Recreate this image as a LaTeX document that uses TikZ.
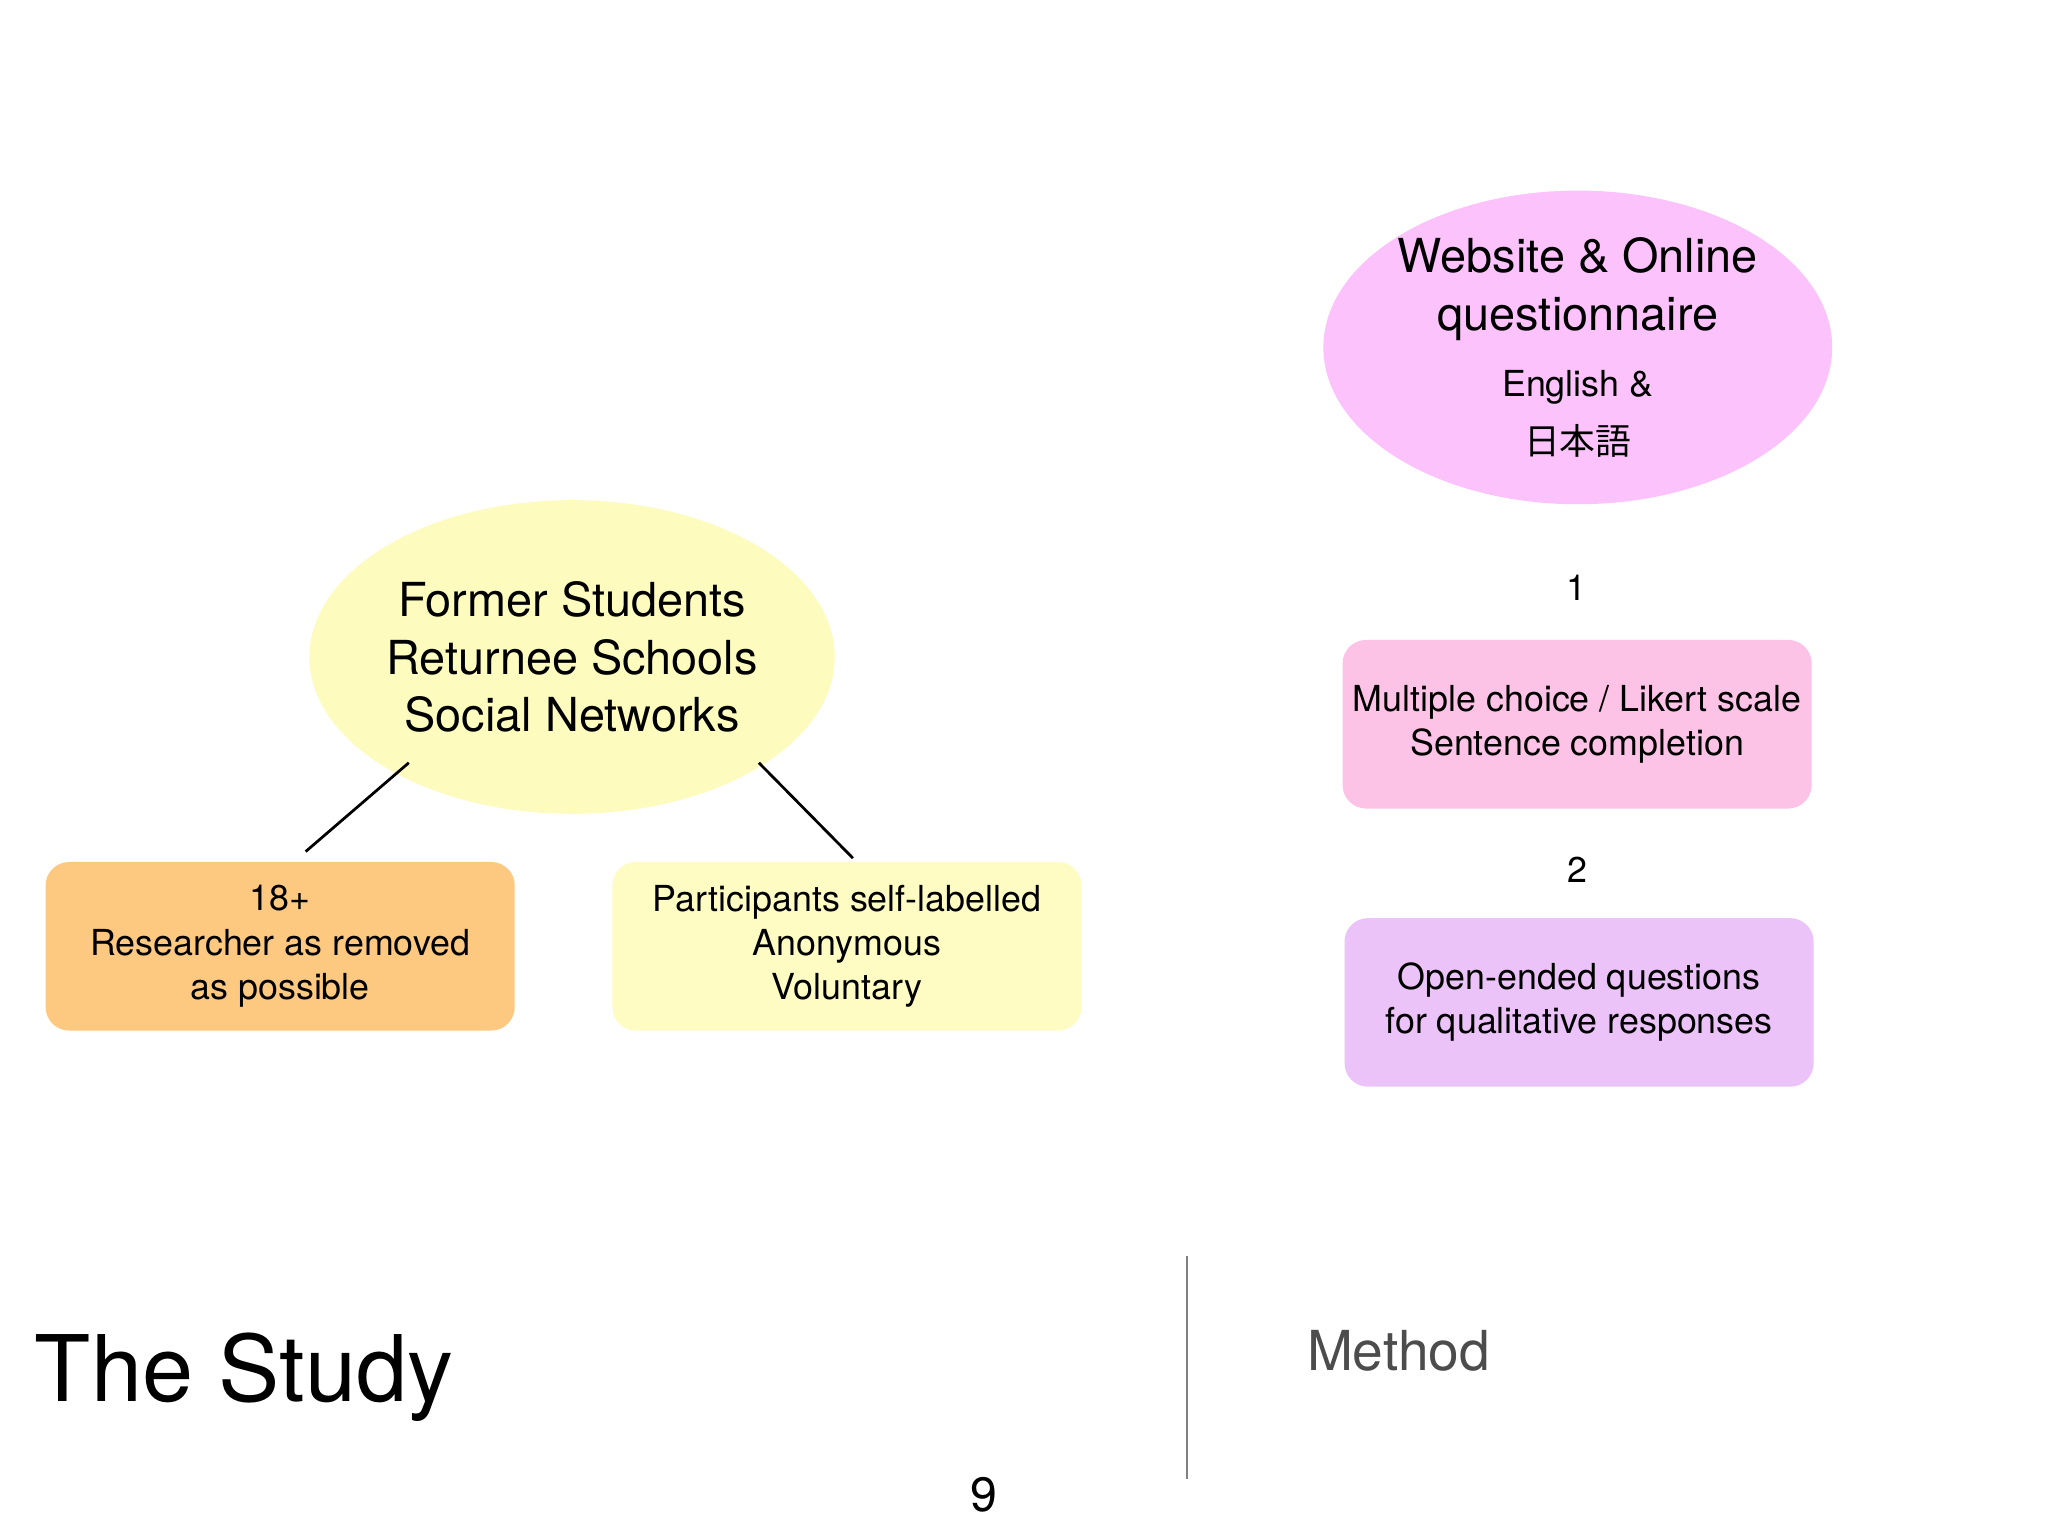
\documentclass[tikz,border=0pt]{standalone}
\usepackage{fontspec}
\setmainfont{TeX Gyre Heros}
\newfontfamily\cjk{Noto Sans CJK JP}
\usetikzlibrary{shapes.geometric}
\definecolor{pinkE}{HTML}{FBC2FB}
\definecolor{pinkB}{HTML}{FDC3E6}
\definecolor{purpB}{HTML}{EBC3F8}
\definecolor{yelE}{HTML}{FDFBBE}
\definecolor{yelB}{HTML}{FEFCC2}
\definecolor{orgB}{HTML}{FDC880}
\tikzset{
 ell/.style={ellipse,minimum width=3.26cm,minimum height=2.4cm,inner sep=0pt,align=center,font=\fontsize{10.2}{12.5}\selectfont},
 box/.style={rounded corners=0.18cm,minimum width=3.59cm,minimum height=1.29cm,align=center,inner sep=0pt,font=\fontsize{7.8}{9.6}\selectfont},
 lbl/.style={font=\fontsize{7.8}{9.6}\selectfont},
 conn/.style={line width=0.6pt}
}
\begin{document}
\begin{tikzpicture}[x=0.01cm,y=-0.01cm]
\useasboundingbox[fill=white] (0,0) rectangle (1568,1176);
\node[ell,fill=pinkE] (web) at (1208,266) {Website \& Online\\questionnaire\\[2pt]{\fontsize{7.8}{9.6}\selectfont English \&}\\{\fontsize{7.8}{9.6}\selectfont\cjk 日本語}};
\node[lbl] (n1) at (1207,450) {1};
\node[box,fill=pinkB] (mc) at (1207.5,554.5) {Multiple choice / Likert scale\\Sentence completion};
\node[lbl] (n2) at (1208,666) {2};
\node[box,fill=purpB] (oe) at (1209,767.5) {Open-ended questions\\for qualitative responses};
\node[ell,fill=yelE] (fs) at (438,503) {Former Students\\Returnee Schools\\Social Networks};
\node[box,fill=orgB] (age) at (214.5,724.5) {18+\\Researcher as removed\\as possible};
\node[box,fill=yelB] (part) at (648.5,724.5) {Participants self-labelled\\Anonymous\\Voluntary};
\coordinate (a1) at (313,584); \coordinate (a2) at (234,652);
\coordinate (b1) at (581,584); \coordinate (b2) at (653,657);
\draw[conn] (a1) -- (a2);
\draw[conn] (b1) -- (b2);
\node[anchor=base west,inner sep=0pt,font=\fontsize{20}{24}\selectfont] (title) at (26,1073) {The Study};
\coordinate (v1) at (909,962); \coordinate (v2) at (909,1132);
\draw[gray,line width=0.5pt] (v1) -- (v2);
\node[anchor=base west,inner sep=0pt,text=black!70,font=\fontsize{12}{14}\selectfont] (meth) at (1000,1049) {Method};
\node[anchor=base,inner sep=0pt,font=\fontsize{10.5}{12}\selectfont] (pg) at (753,1157) {9};
\end{tikzpicture}
\end{document}
